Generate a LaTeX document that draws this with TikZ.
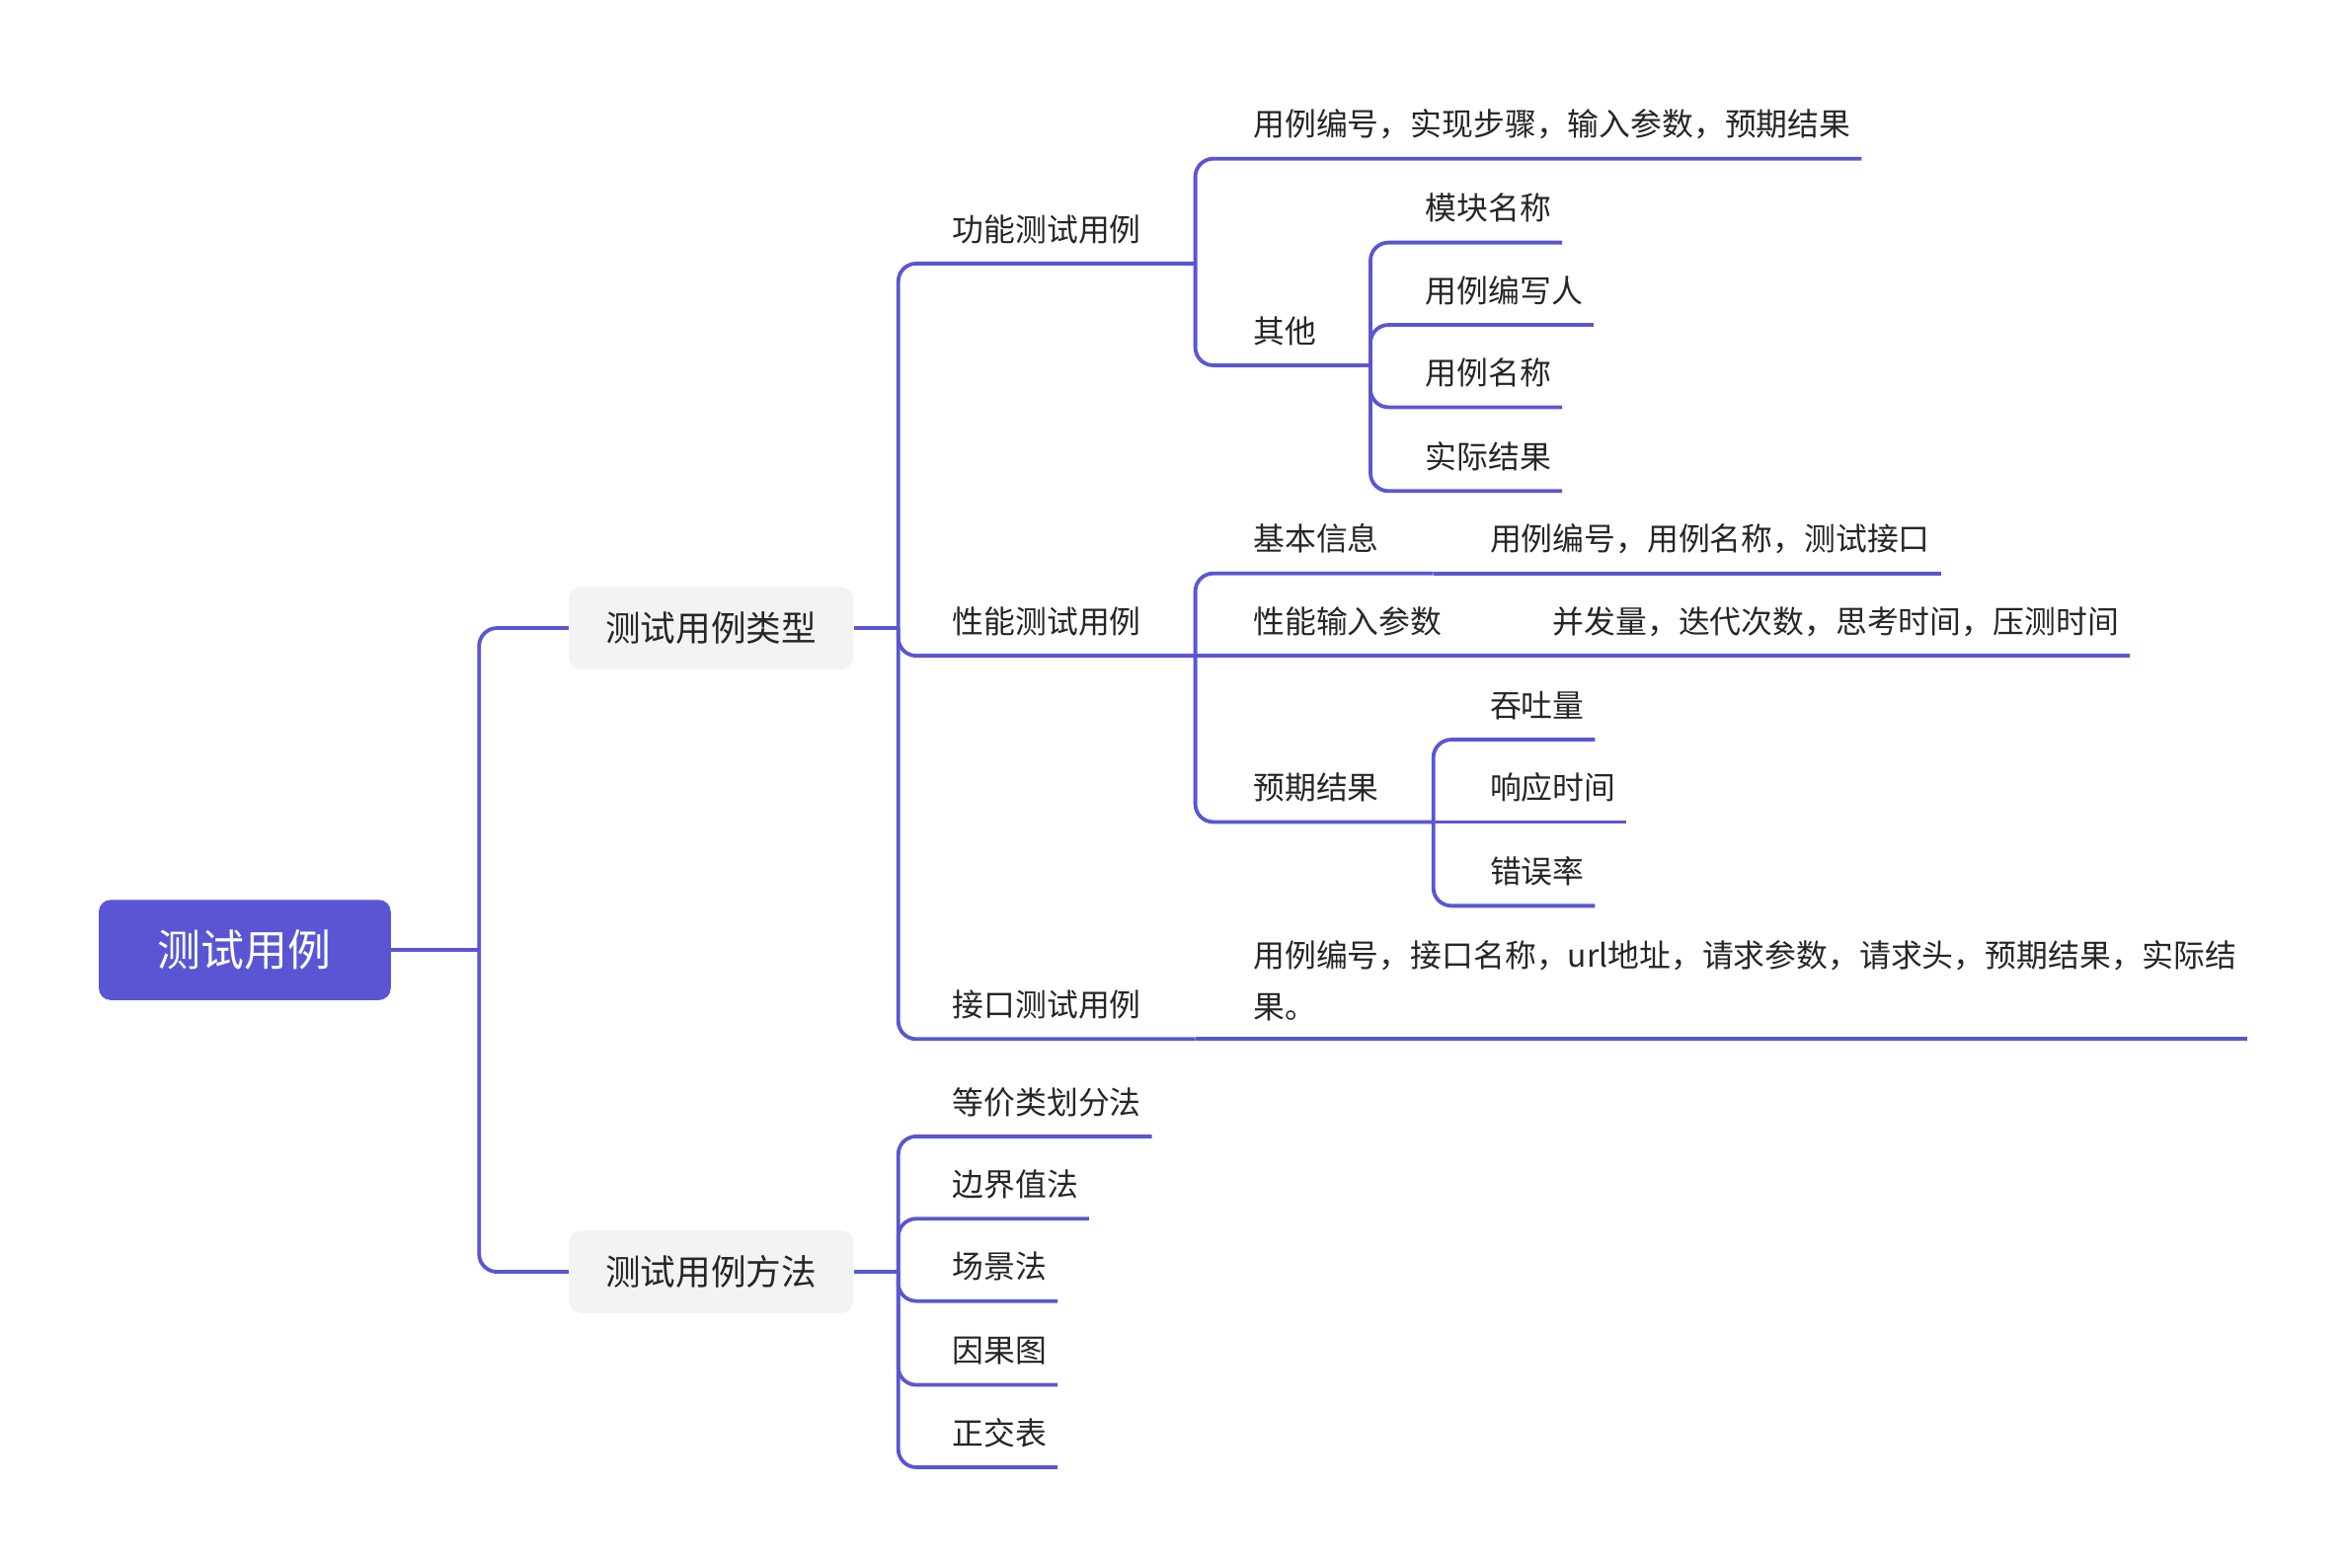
\documentclass[tikz,border=0pt]{standalone}
\usepackage{fontspec}
\setmainfont{Noto Sans CJK SC}
\usetikzlibrary{calc}
\definecolor{main}{HTML}{5A56D3}
\definecolor{boxgray}{HTML}{F3F3F5}
\definecolor{ink}{HTML}{262626}
\begin{document}
\begin{tikzpicture}[x=1pt,y=-1pt,
  conn/.style={draw=main,line width=2.5pt,rounded corners=12pt},
  lbl/.style={anchor=base west,inner sep=0pt,text=ink,font=\fontsize{21}{34}\selectfont},
  rootbox/.style={rectangle,rounded corners=8pt,fill=main,text=white,minimum width=195pt,minimum height=67pt,inner sep=0pt,font=\fontsize{29}{34}\selectfont},
  catbox/.style={rectangle,rounded corners=8pt,fill=boxgray,text=ink,minimum width=190pt,minimum height=55pt,inner sep=0pt,font=\fontsize{23.5}{30}\selectfont}]
\useasboundingbox (0,0) rectangle (1567,1047.3);
% nodes
\node[rootbox] (root) at (163.5,634.5) {测试用例};
\node[catbox] (cat1) at (475,419.5) {测试用例类型};
\node[catbox] (cat2) at (475,849.5) {测试用例方法};
% level 2
\node[lbl] (gn) at (636,161) {功能测试用例};
\node[lbl] (xn) at (636,423) {性能测试用例};
\node[lbl] (jk) at (636,679) {接口测试用例};
\node[lbl] (m1) at (636,744) {等价类划分法};
\node[lbl] (m2) at (636,799) {边界值法};
\node[lbl] (m3) at (636,854) {场景法};
\node[lbl] (m4) at (636,910) {因果图};
\node[lbl] (m5) at (636,965) {正交表};
% level 3
\node[lbl] (g1) at (837,91) {用例编号，实现步骤，输入参数，预期结果};
\node[lbl] (g2) at (837,229) {其他};
\node[lbl] (x1) at (837,368) {基本信息};
\node[lbl] (x2) at (837,423) {性能输入参数};
\node[lbl] (x3) at (837,534) {预期结果};
\node[lbl,align=left] (jd) at (837,680) {用例编号，接口名称，url地址，请求参数，请求头，预期结果，实际结\\果。};
% level 4
\node[lbl] (q1) at (952,147) {模块名称};
\node[lbl] (q2) at (952,202) {用例编写人};
\node[lbl] (q3) at (952,257) {用例名称};
\node[lbl] (q4) at (952,313) {实际结果};
\node[lbl] (x1d) at (995,368) {用例编号，用例名称，测试接口};
\node[lbl] (x2d) at (1037,423) {并发量，迭代次数，思考时间，压测时间};
\node[lbl] (y1) at (995,479) {吞吐量};
\node[lbl] (y2) at (995,534) {响应时间};
\node[lbl] (y3) at (995,590) {错误率};
% bus points
\coordinate (b0) at (320,634.5);
\coordinate (b1) at (600,419.5);
\coordinate (b2) at (600,849.5);
\coordinate (bg) at ($(gn.base east)+(36,15)$);
\coordinate (bx) at ($(xn.base east)+(36,15)$);
\coordinate (bj) at ($(jk.base east)+(36,15)$);
\coordinate (bq) at ($(g2.base east)+(36,15)$);
\coordinate (bx1) at ($(x1.base east)+(36,15)$);
\coordinate (bx2) at ($(x2.base east)+(36,15)$);
\coordinate (bx3) at ($(x3.base east)+(36,15)$);
% connectors
\draw[conn] (root.east) -- (b0);
\draw[conn] (b0) |- (cat1.west);
\draw[conn] (b0) |- (cat2.west);
\draw[conn] (cat1.east) -- (b1);
\draw[conn] (b1) |- (bg);
\draw[conn] (b1) |- (bx);
\draw[conn] (b1) |- (bj);
\draw[conn] (bg) |- ($(g1.base east)+(7,15)$);
\draw[conn] (bg) |- (bq);
\draw[conn] (bq) |- ($(q1.base east)+(7,15)$);
\draw[conn] (bq) |- ($(q2.base east)+(7,15)$);
\draw[conn] (bq) |- ($(q3.base east)+(7,15)$);
\draw[conn] (bq) |- ($(q4.base east)+(7,15)$);
\draw[conn] (bx) |- (bx1);
\draw[conn] (bx) -- (bx2);
\draw[conn] (bx) |- (bx3);
\draw[conn] (bx1) -- ($(x1d.base east)+(7,15)$);
\draw[conn] (bx2) -- ($(x2d.base east)+(7,15)$);
\draw[conn] (bx3) |- ($(y1.base east)+(7,15)$);
\draw[conn] (bx3) -- ($(y2.base east)+(7,15)$);
\draw[conn] (bx3) |- ($(y3.base east)+(7,15)$);
\draw[conn] (bj) -- ($(bj -| jd.east)+(7,0)$);
\draw[conn] (cat2.east) -- (b2);
\draw[conn] (b2) |- ($(m1.base east)+(7,15)$);
\draw[conn] (b2) |- ($(m2.base east)+(7,15)$);
\draw[conn] (b2) |- ($(m3.base east)+(7,15)$);
\draw[conn] (b2) |- ($(m4.base east)+(7,15)$);
\draw[conn] (b2) |- ($(m5.base east)+(7,15)$);
\end{tikzpicture}
\end{document}
